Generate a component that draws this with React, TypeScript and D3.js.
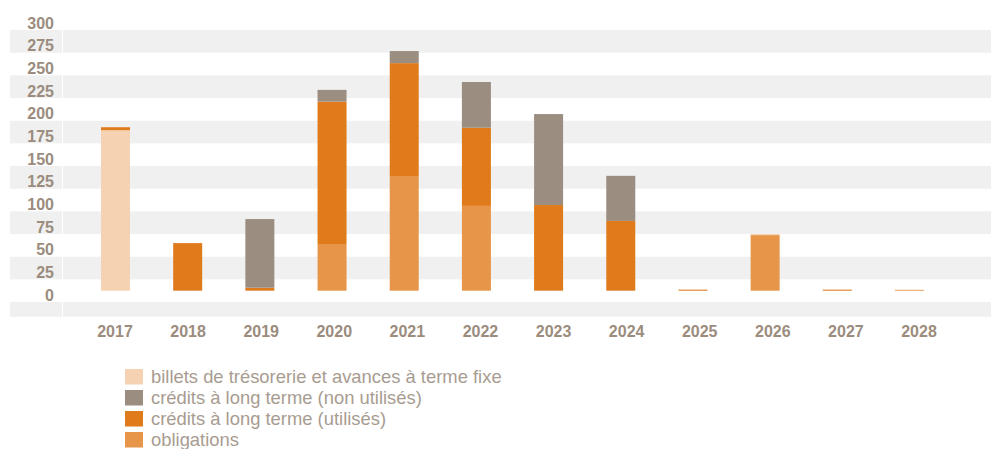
import React from 'react';
import * as d3 from 'd3';

const years = ['2017', '2018', '2019', '2020', '2021', '2022', '2023', '2024', '2025', '2026', '2027', '2028'];
const billets = [177, 0, 0, 0, 0, 0, 0, 0, 0, 0, 0, 0];
const obligations = [0, 0, 0, 51.5, 126.5, 93.5, 0, 0, 0, 61, 0, 1];
const utilises = [3.3, 52.5, 3.3, 157, 124.5, 86.3, 94.5, 77, 1.2, 0.8, 1.2, 0];
const nonUtilises = [0, 0, 75.7, 13, 13.3, 50.4, 100.3, 49.7, 0, 0, 0, 0];
const yTicks = [0, 25, 50, 75, 100, 125, 150, 175, 200, 225, 250, 275, 300];
const bandTicks = [275, 225, 175, 125, 75, 25, -25];

const seriesKeys = ['billets', 'obligations', 'utilises', 'nonUtilises'];
const seriesLabels: Record<string, string> = {
  billets: 'billets de trésorerie et avances à terme fixe',
  nonUtilises: 'crédits à long terme (non utilisés)',
  utilises: 'crédits à long terme (utilisés)',
  obligations: 'obligations',
};
const legendOrder = ['billets', 'nonUtilises', 'utilises', 'obligations'];
const colors: Record<string, string> = {
  billets: '#f5d3b2',
  obligations: '#e69549',
  utilises: '#e07b1c',
  nonUtilises: '#9b8e80',
};

const W = 991;
const H = 449;

export default function App() {
  const rows = years.map((y, i) => ({
    year: y,
    billets: billets[i],
    obligations: obligations[i],
    utilises: utilises[i],
    nonUtilises: nonUtilises[i],
  }));
  const stacked = d3.stack<any>().keys(seriesKeys)(rows);

  const y = d3.scaleLinear().domain([0, 300]).range([290.7, 18.7]);
  const barW = 29;
  const xBar = d3.scalePoint<string>().domain(years).range([115.5, 909.5]);
  const xLabel = d3.scalePoint<string>().domain(years).range([115, 919]);

  const tickColor = '#9b8c7e';
  const bandColor = '#eff0ef';

  return (
    <svg width={W} height={H} style={{ position: 'absolute', left: 0, top: 0 }}>
      <rect x={0} y={0} width={W} height={H} fill="#ffffff" />
      {bandTicks.map((t) => {
        const top = y(t + 12.5);
        const bottom = Math.min(y(t - 12.5), 316.7);
        return (
          <g key={t}>
            <rect x={10} y={top} width={52} height={bottom - top} fill={bandColor} />
            <rect x={63} y={top} width={W - 63} height={bottom - top} fill={bandColor} />
          </g>
        );
      })}
      {yTicks.map((t) => (
        <text
          key={t}
          x={54}
          y={y(t) + 4.3}
          textAnchor="end"
          dominantBaseline="central"
          fontFamily="'Liberation Sans', Arial, sans-serif"
          fontWeight="bold"
          fontSize={16}
          fill={tickColor}
        >
          {t}
        </text>
      ))}
      {stacked.map((s) => (
        <g key={s.key} fill={colors[s.key]}>
          {s.map((d, i) => {
            const h = y(d[0]) - y(d[1]);
            if (h <= 0) return null;
            return (
              <rect
                key={i}
                x={(xBar(years[i]) as number) - barW / 2}
                y={y(d[1])}
                width={barW}
                height={h}
              />
            );
          })}
        </g>
      ))}
      {years.map((yr) => (
        <text
          key={yr}
          x={xLabel(yr)}
          y={331}
          textAnchor="middle"
          dominantBaseline="central"
          fontFamily="'Liberation Sans', Arial, sans-serif"
          fontWeight="bold"
          fontSize={16}
          fill={tickColor}
        >
          {yr}
        </text>
      ))}
      {legendOrder.map((k, i) => (
        <g key={k} transform={`translate(125, ${369 + i * 21})`}>
          <rect x={0} y={0} width={18} height={15.5} fill={colors[k]} />
          <text
            x={26}
            y={13.5}
            fontFamily="'Liberation Sans', Arial, sans-serif"
            fontSize={18.4}
            fill="#a89c91"
          >
            {seriesLabels[k]}
          </text>
        </g>
      ))}
    </svg>
  );
}
